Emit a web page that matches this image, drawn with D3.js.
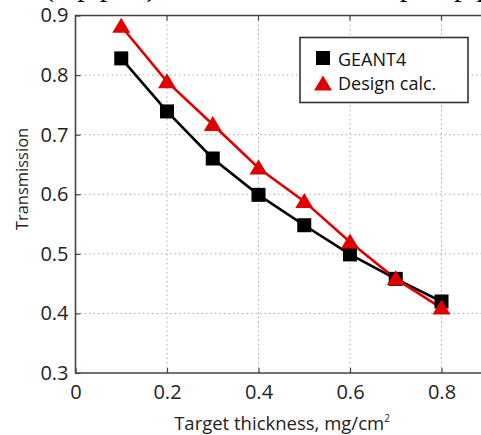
<!DOCTYPE html>
<html><head><meta charset="utf-8">
<script src="https://cdn.jsdelivr.net/npm/d3@7"></script>
<style>
html,body{margin:0;padding:0;background:#fff;overflow:hidden;}
svg{display:block;}
</style></head>
<body>
<script>
const thickness = [0.1, 0.2, 0.3, 0.4, 0.5, 0.6, 0.7, 0.8];
const geant4 = [0.828, 0.739, 0.660, 0.599, 0.548, 0.499, 0.458, 0.420];
const designCalc = [0.882, 0.789, 0.717, 0.644, 0.588, 0.520, 0.458, 0.409];
const xTicks = [0, 0.2, 0.4, 0.6, 0.8];
const yTicks = [0.3, 0.4, 0.5, 0.6, 0.7, 0.8, 0.9];
const seriesNames = ["GEANT4", "Design calc."];

const W = 481, H = 435;
const font = "'Open Sans', 'DejaVu Sans', sans-serif";
const svg = d3.select("body").append("svg").attr("width", W).attr("height", H);

const x = d3.scaleLinear().domain([0, 0.9]).range([75.5, 487.25]);
const y = d3.scaleLinear().domain([0.3, 0.9]).range([373, 15.5]);
const L = 75.5, T = 15.5, B = 373, R = 490;

// clipped caption from the page above
svg.append("text").attr("x", 44).attr("y", -4)
  .attr("font-family", "'Liberation Serif', serif").attr("font-size", 30)
  .attr("fill", "#000").text("(top part) of the transmission plot p p");

// grid
const grid = svg.append("g").attr("stroke", "#aaa").attr("stroke-width", 1).attr("stroke-dasharray", "1.5,3");
grid.selectAll(".gx").data(xTicks.filter(d => d > 0)).join("line")
  .attr("x1", d => x(d)).attr("x2", d => x(d)).attr("y1", T).attr("y2", B);
grid.selectAll(".gy").data(yTicks.filter(d => d > 0.3 && d < 0.9)).join("line")
  .attr("x1", L).attr("x2", R).attr("y1", d => y(d)).attr("y2", d => y(d));

// axes
const xAxis = svg.append("g").attr("transform", `translate(0,${B})`)
  .call(d3.axisBottom(x).tickValues(xTicks).tickFormat(d => d === 0 ? "0" : d3.format(".1f")(d)).tickSize(-5).tickPadding(12));
const yAxis = svg.append("g").attr("transform", `translate(${L},0)`)
  .call(d3.axisLeft(y).tickValues(yTicks).tickFormat(d3.format(".1f")).tickSize(-5).tickPadding(7));
[xAxis, yAxis].forEach(g => {
  g.select(".domain").remove();
  g.selectAll(".tick line").attr("stroke", "#444").attr("stroke-width", 1.2);
  g.selectAll(".tick text").attr("font-family", font).attr("font-size", 20).attr("fill", "#222");
});
// top ticks
svg.append("g").selectAll("line").data(xTicks.filter(d => d > 0)).join("line")
  .attr("x1", d => x(d)).attr("x2", d => x(d)).attr("y1", T).attr("y2", T + 5)
  .attr("stroke", "#444").attr("stroke-width", 1.2);
// frame
svg.append("path").attr("d", `M${R},${T}H${L}V${B}H${R}`).attr("fill", "none")
  .attr("stroke", "#444").attr("stroke-width", 1.6);

// axis titles
const xt = svg.append("text").attr("x", 282).attr("y", 430).attr("text-anchor", "middle")
  .attr("font-family", font).attr("font-size", 18.5).attr("fill", "#222");
xt.append("tspan").text("Target thickness, mg/cm");
xt.append("tspan").attr("dy", -8).attr("font-size", 10).text("2");
svg.append("text").attr("transform", "translate(28,179) rotate(-90)").attr("text-anchor", "middle")
  .attr("font-family", font).attr("font-size", 16.5).attr("fill", "#222").text("Transmission");

// lines
const line = d3.line().x(d => x(d[0])).y(d => y(d[1]));
const gData = thickness.map((t, i) => [t, geant4[i]]);
const dData = thickness.map((t, i) => [t, designCalc[i]]);
svg.append("path").datum(gData).attr("d", line).attr("fill", "none").attr("stroke", "#000").attr("stroke-width", 2.6);
svg.append("path").datum(dData).attr("d", line).attr("fill", "none").attr("stroke", "#e00000").attr("stroke-width", 2.6);

const sq = 14;
svg.append("g").selectAll("rect").data(gData).join("rect")
  .attr("x", d => x(d[0]) - sq / 2).attr("y", d => y(d[1]) - sq / 2)
  .attr("width", sq).attr("height", sq).attr("fill", "#000");
const tri = (cx, cy) => `M${cx},${cy - 8.5}L${cx + 9},${cy + 6.5}L${cx - 9},${cy + 6.5}Z`;
svg.append("g").selectAll("path").data(dData).join("path")
  .attr("d", d => tri(x(d[0]), y(d[1]))).attr("fill", "#e00000");

// legend
const lg = svg.append("g");
lg.append("rect").attr("x", 300).attr("y", 37.5).attr("width", 168).attr("height", 65)
  .attr("fill", "#fff").attr("stroke", "#333").attr("stroke-width", 1.6);
lg.append("rect").attr("x", 316).attr("y", 51).attr("width", 14).attr("height", 14).attr("fill", "#000");
lg.append("path").attr("d", tri(323, 84)).attr("fill", "#e00000");
lg.selectAll("text").data(seriesNames).join("text")
  .attr("x", 338).attr("y", (d, i) => 65.5 + i * 24.5)
  .attr("font-family", font).attr("font-size", 18).attr("fill", "#111").text(d => d);
</script>
</body></html>
